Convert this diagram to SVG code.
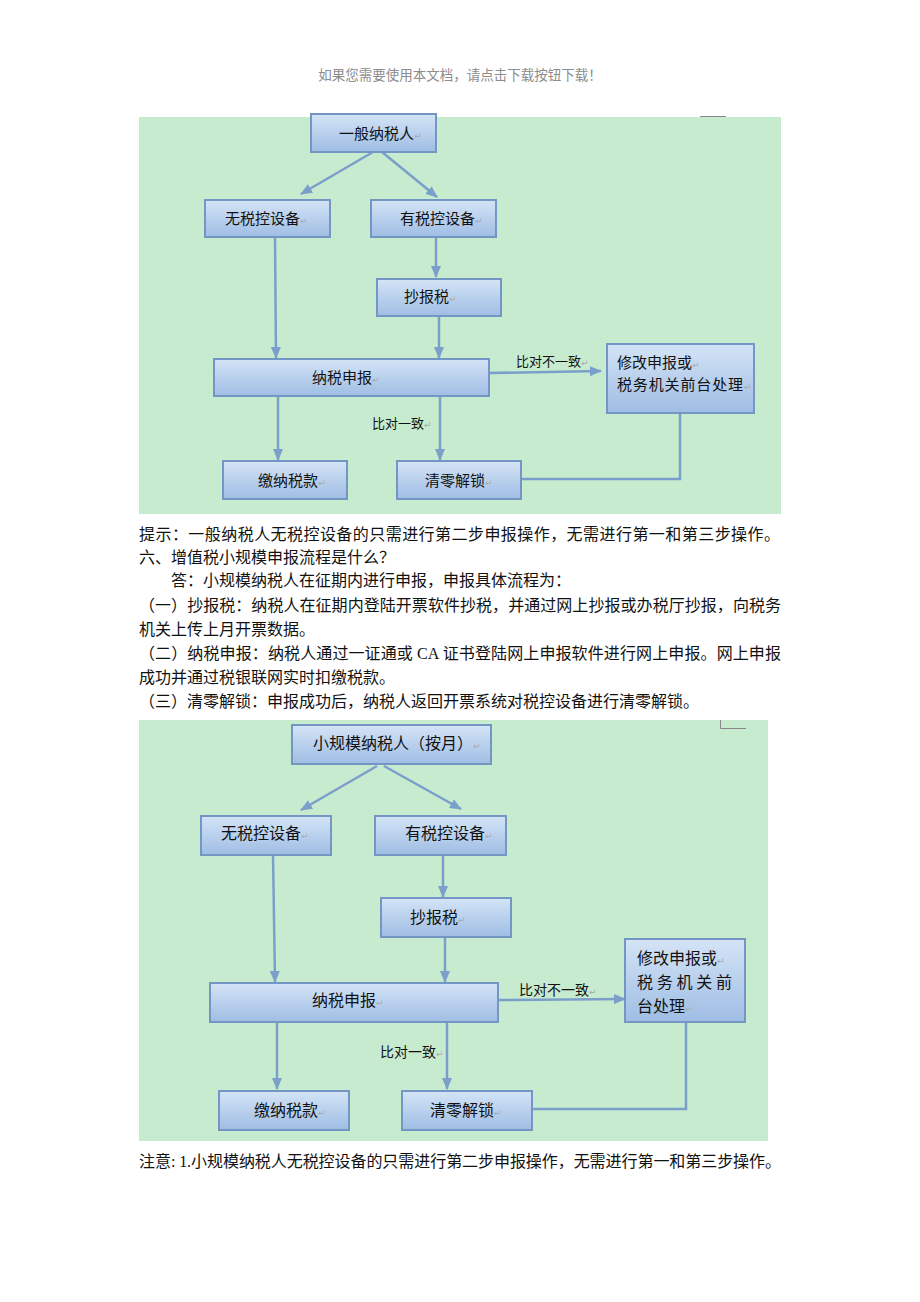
<svg xmlns="http://www.w3.org/2000/svg" width="920" height="1302" viewBox="0 0 920 1302">
<style>
.bg{fill:#c7ebcf}
.box{fill:url(#bx);stroke:#7396c4;stroke-width:2}
.t{font-family:"Liberation Sans","Noto Sans CJK SC",sans-serif;fill:#111}
.t1{font-size:15px}
.t2{font-size:16px}
.lb1{font-size:13px}
.lb2{font-size:14px}
.pm{font-family:"DejaVu Sans",sans-serif;font-size:9px;fill:#aaa}
.c{fill:none;stroke:#7b9fcb;stroke-width:2.5}
.p{font-family:"Liberation Serif","Noto Sans CJK SC",serif;font-size:16px;fill:#111}
.hd{font-family:"Liberation Serif","Noto Sans CJK SC",serif;font-size:13.5px;fill:#8c8c8c}
.mk{fill:none;stroke:#888;stroke-width:1}
</style>
<defs>
<linearGradient id="bx" x1="0" y1="0" x2="0" y2="1">
<stop offset="0" stop-color="#d4e4f6"/>
<stop offset="1" stop-color="#9fbde4"/>
</linearGradient>
<marker id="ah" markerUnits="userSpaceOnUse" markerWidth="12" markerHeight="10" refX="11" refY="5" orient="auto">
<path d="M0,0 L12,5 L0,10 Z" fill="#7b9fcb"/>
</marker>
</defs>
<rect width="920" height="1302" fill="#fff"/>
<text class="hd" x="460" y="80" text-anchor="middle">如果您需要使用本文档，请点击下载按钮下载！</text>

<!-- Diagram 1 -->
<g id="diagram1">
<rect class="bg" x="139" y="117" width="642" height="397"/>
<path class="mk" d="M700,116.5 H726"/>
<g id="d1-connectors">
<line class="c" x1="373" y1="152" x2="301" y2="194" marker-end="url(#ah)"/>
<line class="c" x1="382" y1="152" x2="437" y2="197" marker-end="url(#ah)"/>
<line class="c" x1="275" y1="237" x2="276" y2="358" marker-end="url(#ah)"/>
<line class="c" x1="436" y1="237" x2="436" y2="277" marker-end="url(#ah)"/>
<line class="c" x1="439" y1="316" x2="439" y2="358" marker-end="url(#ah)"/>
<line class="c" x1="278" y1="396" x2="278" y2="460" marker-end="url(#ah)"/>
<line class="c" x1="440" y1="396" x2="440" y2="460" marker-end="url(#ah)"/>
<line class="c" x1="489" y1="373" x2="601" y2="371" marker-end="url(#ah)"/>
<polyline class="c" points="680,413 680,479 521,479"/>
<text class="t lb1" x="516" y="366">比对不一致<tspan class="pm">↵</tspan></text>
<text class="t lb1" x="372" y="428">比对一致<tspan class="pm">↵</tspan></text>
</g>
<g id="d1-n1"><rect class="box" x="311" y="114" width="125" height="38"/><text class="t t1" x="339" y="139">一般纳税人<tspan class="pm">↵</tspan></text></g>
<g id="d1-n2"><rect class="box" x="205" y="200" width="125" height="37"/><text class="t t1" x="225" y="224">无税控设备<tspan class="pm">↵</tspan></text></g>
<g id="d1-n3"><rect class="box" x="371" y="200" width="125" height="37"/><text class="t t1" x="400" y="224">有税控设备<tspan class="pm">↵</tspan></text></g>
<g id="d1-n4"><rect class="box" x="377" y="279" width="124" height="37"/><text class="t t1" x="404" y="302">抄报税<tspan class="pm">↵</tspan></text></g>
<g id="d1-n5"><rect class="box" x="214" y="359" width="275" height="37"/><text class="t t1" x="312" y="383">纳税申报<tspan class="pm">↵</tspan></text></g>
<g id="d1-n6"><rect class="box" x="223" y="461" width="124" height="38"/><text class="t t1" x="258" y="486">缴纳税款<tspan class="pm">↵</tspan></text></g>
<g id="d1-n7"><rect class="box" x="397" y="461" width="124" height="38"/><text class="t t1" x="425" y="486">清零解锁<tspan class="pm">↵</tspan></text></g>
<g id="d1-n8"><rect class="box" x="607" y="344" width="147" height="69"/><text class="t t1" x="617" y="368">修改申报或<tspan class="pm">↵</tspan></text><text class="t t1" x="617" y="390" textLength="126" lengthAdjust="spacing">税务机关前台处理</text><text class="pm" x="744" y="390">↵</text></g>
</g>

<!-- Paragraphs -->
<g id="paragraphs">
<text class="p" x="139" y="540" textLength="641" lengthAdjust="spacing">提示：一般纳税人无税控设备的只需进行第二步申报操作，无需进行第一和第三步操作。</text>
<text class="p" x="139" y="563">六、增值税小规模申报流程是什么？</text>
<text class="p" x="171" y="586">答：小规模纳税人在征期内进行申报，申报具体流程为：</text>
<text class="p" x="139" y="611" textLength="642" lengthAdjust="spacing">（一）抄报税：纳税人在征期内登陆开票软件抄税，并通过网上抄报或办税厅抄报，向税务</text>
<text class="p" x="139" y="635">机关上传上月开票数据。</text>
<text class="p" x="139" y="659" textLength="642" lengthAdjust="spacing">（二）纳税申报：纳税人通过一证通或 CA 证书登陆网上申报软件进行网上申报。网上申报</text>
<text class="p" x="139" y="683">成功并通过税银联网实时扣缴税款。</text>
<text class="p" x="139" y="707">（三）清零解锁：申报成功后，纳税人返回开票系统对税控设备进行清零解锁。</text>
</g>

<!-- Diagram 2 -->
<g id="diagram2">
<rect class="bg" x="139" y="720" width="629" height="421"/>
<path class="mk" d="M720.5,720 V728.5 H746"/>
<g id="d2-connectors">
<line class="c" x1="377" y1="766" x2="301" y2="810" marker-end="url(#ah)"/>
<line class="c" x1="384" y1="766" x2="461" y2="809" marker-end="url(#ah)"/>
<line class="c" x1="273" y1="855" x2="275" y2="982" marker-end="url(#ah)"/>
<line class="c" x1="443" y1="855" x2="443" y2="897" marker-end="url(#ah)"/>
<line class="c" x1="445" y1="937" x2="445" y2="982" marker-end="url(#ah)"/>
<line class="c" x1="277" y1="1022" x2="277" y2="1089" marker-end="url(#ah)"/>
<line class="c" x1="447" y1="1022" x2="447" y2="1089" marker-end="url(#ah)"/>
<line class="c" x1="498" y1="1000" x2="625" y2="999" marker-end="url(#ah)"/>
<polyline class="c" points="686,1022 686,1109 532,1109"/>
<text class="t lb2" x="519" y="995">比对不一致<tspan class="pm">↵</tspan></text>
<text class="t lb2" x="380" y="1057">比对一致<tspan class="pm">↵</tspan></text>
</g>
<g id="d2-n1"><rect class="box" x="292" y="725" width="199" height="39"/><text class="t t2" x="313" y="749">小规模纳税人（按月）<tspan class="pm">↵</tspan></text></g>
<g id="d2-n2"><rect class="box" x="201" y="816" width="130" height="39"/><text class="t t2" x="221" y="839">无税控设备<tspan class="pm">↵</tspan></text></g>
<g id="d2-n3"><rect class="box" x="375" y="816" width="131" height="39"/><text class="t t2" x="405" y="839">有税控设备<tspan class="pm">↵</tspan></text></g>
<g id="d2-n4"><rect class="box" x="381" y="898" width="130" height="39"/><text class="t t2" x="410" y="923">抄报税<tspan class="pm">↵</tspan></text></g>
<g id="d2-n5"><rect class="box" x="210" y="983" width="288" height="39"/><text class="t t2" x="312" y="1006">纳税申报<tspan class="pm">↵</tspan></text></g>
<g id="d2-n6"><rect class="box" x="219" y="1091" width="130" height="39"/><text class="t t2" x="254" y="1116">缴纳税款<tspan class="pm">↵</tspan></text></g>
<g id="d2-n7"><rect class="box" x="402" y="1091" width="130" height="39"/><text class="t t2" x="430" y="1116">清零解锁<tspan class="pm">↵</tspan></text></g>
<g id="d2-n8"><rect class="box" x="625" y="939" width="120" height="83"/><text class="t t2" x="637" y="964">修改申报或<tspan class="pm">↵</tspan></text><text class="t t2" x="637" y="988" textLength="95" lengthAdjust="spacing">税务机关前</text><text class="t t2" x="637" y="1012">台处理<tspan class="pm">↵</tspan></text></g>
</g>

<text class="p" x="139" y="1167" textLength="642" lengthAdjust="spacing">注意: 1.小规模纳税人无税控设备的只需进行第二步申报操作，无需进行第一和第三步操作。</text>
</svg>
